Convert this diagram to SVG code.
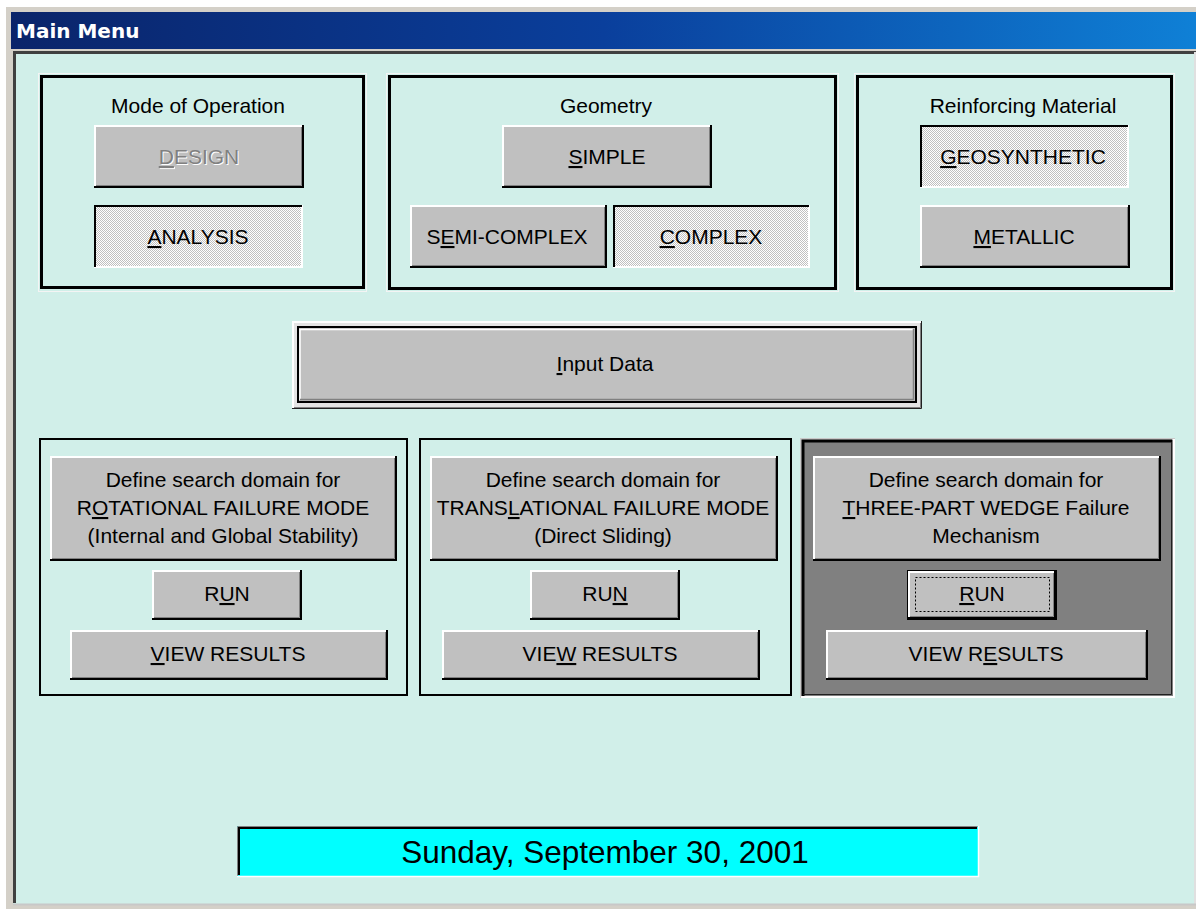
<svg xmlns="http://www.w3.org/2000/svg" width="1196" height="909" viewBox="0 0 1196 909">
<defs>
<linearGradient id="tb" x1="11" y1="0" x2="1196" y2="0" gradientUnits="userSpaceOnUse">
<stop offset="0" stop-color="#0a246a"/>
<stop offset="0.5" stop-color="#0a3f9c"/>
<stop offset="1" stop-color="#0f80d6"/>
</linearGradient>
<pattern id="dither" x="0" y="0" width="2" height="2" patternUnits="userSpaceOnUse">
<rect width="2" height="2" fill="#ffffff"/>
<rect width="1" height="1" fill="#c0c0c0"/>
<rect x="1" y="1" width="1" height="1" fill="#c0c0c0"/>
</pattern>
</defs>
<style>
.t{font-family:"Liberation Sans",Arial,sans-serif;font-size:21px;fill:#000;text-anchor:middle}
.gt{font-family:"Liberation Sans",Arial,sans-serif;font-size:21px;fill:#000;text-anchor:middle}
.face{fill:#c0c0c0}
.dith{fill:url(#dither)}
.hl{fill:none;stroke:#ffffff;stroke-width:2}
.sh{fill:none;stroke:#000000;stroke-width:2}
.sh2{fill:none;stroke:#808080;stroke-width:1}
.pd{fill:none;stroke:#000000;stroke-width:2}
.frame{fill:none;stroke:#000000;stroke-width:3}
.frameo{fill:none;stroke:#f4f4f4;stroke-width:1}
.panel{fill:none;stroke:#000000;stroke-width:2}
.u{text-decoration:underline}
</style>
<!-- window chrome -->
<rect x="0" y="0" width="1196" height="909" fill="#ffffff"/>
<rect x="6" y="7" width="1190" height="902" fill="#d4d0c8"/>
<rect x="11" y="12" width="1185" height="37" fill="url(#tb)"/>
<text x="16" y="38" style="font-family:'DejaVu Sans',sans-serif;font-size:20px;font-weight:bold;fill:#ffffff">Main Menu</text>
<rect x="13" y="52" width="1183" height="852" fill="#d1efe9"/>
<path d="M14.5,903 V52.5 H1196" fill="none" stroke="#404040" stroke-width="3"/>
<rect x="16" y="54" width="1178" height="849" fill="#d1efe9"/>
<line x1="1195" y1="52" x2="1195" y2="904" stroke="#e0e0e0" stroke-width="2"/>
<line x1="13" y1="904.5" x2="1196" y2="904.5" stroke="#c8c8c8" stroke-width="2"/>

<!-- Mode of Operation -->
<g id="mode-of-operation">
<rect class="frameo" x="38.5" y="73.5" width="328" height="218"/>
<rect class="frame" x="41.5" y="76.5" width="322" height="211"/>
<text class="gt" x="198" y="113">Mode of Operation</text>
<g id="btn-design">
<rect class="face" x="94" y="125" width="210" height="63"/>
<path class="hl" d="M95,186 V126 H302"/>
<path class="sh" d="M94,187 H303 V125"/>
<path class="sh2" d="M96,185.5 H301.5 V127"/>
<text class="t" x="200" y="165" style="fill:#ffffff"><tspan class="u">D</tspan>ESIGN</text>
<text class="t" x="199" y="164" style="fill:#808080"><tspan class="u">D</tspan>ESIGN</text>
</g>
<g id="btn-analysis">
<rect class="dith" x="94" y="205" width="209" height="63"/>
<path class="hl" d="M94,267 H302 V205"/>
<path class="pd" d="M95,267 V206 H302"/>
<text class="t" x="198" y="244"><tspan class="u">A</tspan>NALYSIS</text>
</g>
</g>

<!-- Geometry -->
<g id="geometry">
<rect class="frameo" x="386.5" y="73.5" width="452" height="218"/>
<rect class="frame" x="389.5" y="76.5" width="446" height="212"/>
<text class="gt" x="606" y="113">Geometry</text>
<g id="btn-simple">
<rect class="face" x="502" y="125" width="210" height="63"/>
<path class="hl" d="M503,186 V126 H710"/>
<path class="sh" d="M502,187 H711 V125"/>
<path class="sh2" d="M504,185.5 H709.5 V127"/>
<text class="t" x="607" y="164"><tspan class="u">S</tspan>IMPLE</text>
</g>
<g id="btn-semi-complex">
<rect class="face" x="410" y="205" width="197" height="63"/>
<path class="hl" d="M411,266 V206 H605"/>
<path class="sh" d="M410,267 H606 V205"/>
<path class="sh2" d="M412,265.5 H604.5 V207"/>
<text class="t" x="507" y="244">S<tspan class="u">E</tspan>MI-COMPLEX</text>
</g>
<g id="btn-complex">
<rect class="dith" x="613" y="205" width="197" height="63"/>
<path class="hl" d="M613,267 H809 V205"/>
<path class="pd" d="M614,267 V206 H809"/>
<text class="t" x="711" y="244"><tspan class="u">C</tspan>OMPLEX</text>
</g>
</g>

<!-- Reinforcing Material -->
<g id="reinforcing-material">
<rect class="frameo" x="854.5" y="73.5" width="320" height="218"/>
<rect class="frame" x="857.5" y="76.5" width="314" height="212"/>
<text class="gt" x="1023" y="113">Reinforcing Material</text>
<g id="btn-geosynthetic">
<rect class="dith" x="920" y="125" width="209" height="63"/>
<path class="hl" d="M920,187 H1128 V125"/>
<path class="pd" d="M921,187 V126 H1128"/>
<text class="t" x="1023" y="164"><tspan class="u">G</tspan>EOSYNTHETIC</text>
</g>
<g id="btn-metallic">
<rect class="face" x="920" y="205" width="210" height="63"/>
<path class="hl" d="M921,266 V206 H1128"/>
<path class="sh" d="M920,267 H1129 V205"/>
<path class="sh2" d="M922,265.5 H1127.5 V207"/>
<text class="t" x="1024" y="244"><tspan class="u">M</tspan>ETALLIC</text>
</g>
</g>

<!-- Input Data -->
<g id="input-data">
<rect x="292" y="321" width="630" height="88" fill="#e4e4e4"/>
<path d="M293,408 V322 H921" fill="none" stroke="#ffffff" stroke-width="2"/>
<path d="M292,408.5 H921.5 V321" fill="none" stroke="#202020" stroke-width="1"/>
<path d="M294,407.5 H920.5 V323" fill="none" stroke="#808080" stroke-width="1"/>
<rect x="298" y="327" width="618" height="75" fill="#c0c0c0" stroke="#000000" stroke-width="2"/>
<path d="M300,400 V329.5 H913" fill="none" stroke="#ffffff" stroke-width="1.5"/>
<path d="M300,399.5 H913.5 V329" fill="none" stroke="#808080" stroke-width="1.5"/>
<text class="t" x="605" y="371"><tspan class="u">I</tspan>nput Data</text>
</g>

<!-- Panel 1: Rotational -->
<g id="panel-rotational">
<rect class="panel" x="40" y="439" width="367" height="256"/>
<g id="btn-define-rotational">
<rect class="face" x="50" y="456" width="347" height="105"/>
<path class="hl" d="M51,559 V457 H395"/>
<path class="sh" d="M50,560 H396 V456"/>
<path class="sh2" d="M52,558.5 H394.5 V458"/>
<text class="t" x="223" y="487">Define search domain for</text>
<text class="t" x="223" y="515">R<tspan class="u">O</tspan>TATIONAL FAILURE MODE</text>
<text class="t" x="223" y="543">(Internal and Global Stability)</text>
</g>
<g id="btn-run-rotational">
<rect class="face" x="152" y="570" width="150" height="50"/>
<path class="hl" d="M153,618 V571 H300"/>
<path class="sh" d="M152,619 H301 V570"/>
<path class="sh2" d="M154,617.5 H299.5 V572"/>
<text class="t" x="227" y="601">R<tspan class="u">U</tspan>N</text>
</g>
<g id="btn-view-rotational">
<rect class="face" x="70" y="630" width="318" height="50"/>
<path class="hl" d="M71,678 V631 H386"/>
<path class="sh" d="M70,679 H387 V630"/>
<path class="sh2" d="M72,677.5 H385.5 V632"/>
<text class="t" x="228" y="661"><tspan class="u">V</tspan>IEW RESULTS</text>
</g>
</g>

<!-- Panel 2: Translational -->
<g id="panel-translational">
<rect class="panel" x="420" y="439" width="371" height="256"/>
<g id="btn-define-translational">
<rect class="face" x="430" y="456" width="348" height="105"/>
<path class="hl" d="M431,559 V457 H776"/>
<path class="sh" d="M430,560 H777 V456"/>
<path class="sh2" d="M432,558.5 H775.5 V458"/>
<text class="t" x="603" y="487">Define search domain for</text>
<text class="t" x="603" y="515">TRANS<tspan class="u">L</tspan>ATIONAL FAILURE MODE</text>
<text class="t" x="603" y="543">(Direct Sliding)</text>
</g>
<g id="btn-run-translational">
<rect class="face" x="530" y="570" width="150" height="50"/>
<path class="hl" d="M531,618 V571 H678"/>
<path class="sh" d="M530,619 H679 V570"/>
<path class="sh2" d="M532,617.5 H677.5 V572"/>
<text class="t" x="605" y="601">RU<tspan class="u">N</tspan></text>
</g>
<g id="btn-view-translational">
<rect class="face" x="442" y="630" width="318" height="50"/>
<path class="hl" d="M443,678 V631 H758"/>
<path class="sh" d="M442,679 H759 V630"/>
<path class="sh2" d="M444,677.5 H757.5 V632"/>
<text class="t" x="600" y="661">VIE<tspan class="u">W</tspan> RESULTS</text>
</g>
</g>

<!-- Panel 3: Three-part wedge -->
<g id="panel-wedge">
<rect x="800" y="438" width="375" height="260" fill="#c8c8c8"/>
<rect x="802" y="440" width="371" height="256" fill="#808080"/>
<path d="M803,696 V441 H1172" fill="none" stroke="#000000" stroke-width="3"/>
<path d="M801,697 H1174 V439" fill="none" stroke="#ffffff" stroke-width="2"/>
<path d="M803,694.5 H1171.5 V442" fill="none" stroke="#202020" stroke-width="1"/>
<g id="btn-define-wedge">
<rect class="face" x="813" y="456" width="348" height="105"/>
<path class="hl" d="M814,559 V457 H1159"/>
<path class="sh" d="M813,560 H1160 V456"/>
<path class="sh2" d="M815,558.5 H1158.5 V458"/>
<text class="t" x="986" y="487">Define search domain for</text>
<text class="t" x="986" y="515"><tspan class="u">T</tspan>HREE-PART WEDGE Failure</text>
<text class="t" x="986" y="543">Mechanism</text>
</g>
<g id="btn-run-wedge">
<rect x="907.5" y="570.5" width="149" height="49" fill="#c0c0c0" stroke="#000000" stroke-width="1"/>
<path class="hl" d="M909,617 V572 H1054"/>
<path class="sh" d="M908,618 H1055 V571"/>
<path class="sh2" d="M910,616.5 H1053.5 V573"/>
<rect x="915.5" y="577.5" width="134" height="34" fill="none" stroke="#000000" stroke-width="1" stroke-dasharray="2,2"/>
<text class="t" x="982" y="601"><tspan class="u">R</tspan>UN</text>
</g>
<g id="btn-view-wedge">
<rect class="face" x="826" y="630" width="322" height="50"/>
<path class="hl" d="M827,678 V631 H1146"/>
<path class="sh" d="M826,679 H1147 V630"/>
<path class="sh2" d="M828,677.5 H1145.5 V632"/>
<text class="t" x="986" y="661">VIEW R<tspan class="u">E</tspan>SULTS</text>
</g>
</g>

<!-- Date -->
<g id="date-box">
<rect x="237" y="826" width="741" height="50" fill="#00ffff"/>
<path d="M237.5,876 V826.5 H978" fill="none" stroke="#808080" stroke-width="1"/>
<path d="M239,875 V828 H977" fill="none" stroke="#000000" stroke-width="2"/>
<path d="M237,876.5 H978.5 V826" fill="none" stroke="#ffffff" stroke-width="1.5"/>
<text x="605" y="863" style="font-family:'Liberation Sans',Arial,sans-serif;font-size:31.5px;fill:#000;text-anchor:middle">Sunday, September 30, 2001</text>
</g>
</svg>
